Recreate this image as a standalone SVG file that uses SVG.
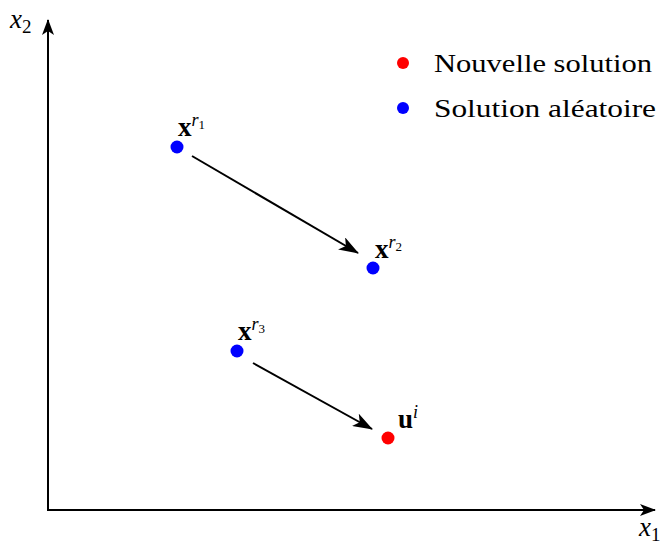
<svg xmlns="http://www.w3.org/2000/svg" width="666" height="546" viewBox="0 0 666 546">
<style>
.ax{stroke:#000;stroke-width:2;fill:none}
.ar{stroke:#000;stroke-width:2;fill:none}
.t{font-family:"Liberation Serif","Times New Roman",serif;fill:#000}
.it{font-style:italic}
.b{font-weight:bold}
.blue{fill:#0000ff}
.red{fill:#ff0000}
</style>
<defs>
<marker id="ah" viewBox="0 0 20 14" refX="19" refY="7" markerWidth="20" markerHeight="14" markerUnits="userSpaceOnUse" orient="auto">
<path d="M0,0 L20,7 L0,14 L5,7 Z" fill="#000"/>
</marker>
<marker id="axh" viewBox="0 0 16 12" refX="15" refY="6" markerWidth="16" markerHeight="12" markerUnits="userSpaceOnUse" orient="auto">
<path d="M0,0 L16,6 L0,12 L4,6 Z" fill="#000"/>
</marker>
</defs>
<g id="axes">
<line class="ax" x1="48" y1="510" x2="48" y2="20" marker-end="url(#axh)"/>
<line class="ax" x1="47" y1="510" x2="655" y2="510" marker-end="url(#axh)"/>
<text class="t it" x="10" y="28" font-size="27">x<tspan font-style="normal" font-size="19" dy="5">2</tspan></text>
<text class="t it" x="639" y="536" font-size="27">x<tspan font-style="normal" font-size="19" dy="5">1</tspan></text>
</g>
<g id="connectors">
<line class="ar" x1="192" y1="156" x2="358" y2="253" marker-end="url(#ah)"/>
<line class="ar" x1="253" y1="363" x2="372" y2="429" marker-end="url(#ah)"/>
</g>
<g id="xr1">
<circle class="blue" cx="177" cy="147" r="6.5"/>
<text class="t" x="178" y="136" font-size="27"><tspan class="b">x</tspan><tspan class="it" font-size="18" dy="-10">r</tspan><tspan font-size="13" dy="3">1</tspan></text>
</g>
<g id="xr2">
<circle class="blue" cx="373" cy="268" r="6.5"/>
<text class="t" x="375" y="258" font-size="27"><tspan class="b">x</tspan><tspan class="it" font-size="18" dy="-10">r</tspan><tspan font-size="13" dy="3">2</tspan></text>
</g>
<g id="xr3">
<circle class="blue" cx="237" cy="351" r="6.5"/>
<text class="t" x="238" y="340" font-size="27"><tspan class="b">x</tspan><tspan class="it" font-size="18" dy="-10">r</tspan><tspan font-size="13" dy="3">3</tspan></text>
</g>
<g id="ui">
<circle class="red" cx="388" cy="438" r="6.5"/>
<text class="t" x="398" y="428" font-size="27"><tspan class="b">u</tspan><tspan class="it" font-size="18" dy="-10">i</tspan></text>
</g>
<g id="legend">
<circle class="red" cx="403" cy="63" r="6"/>
<text class="t" x="434" y="72" font-size="25" textLength="218" lengthAdjust="spacingAndGlyphs">Nouvelle solution</text>
<circle class="blue" cx="403" cy="108" r="6"/>
<text class="t" x="434" y="117" font-size="25" textLength="222" lengthAdjust="spacingAndGlyphs">Solution aléatoire</text>
</g>
</svg>
